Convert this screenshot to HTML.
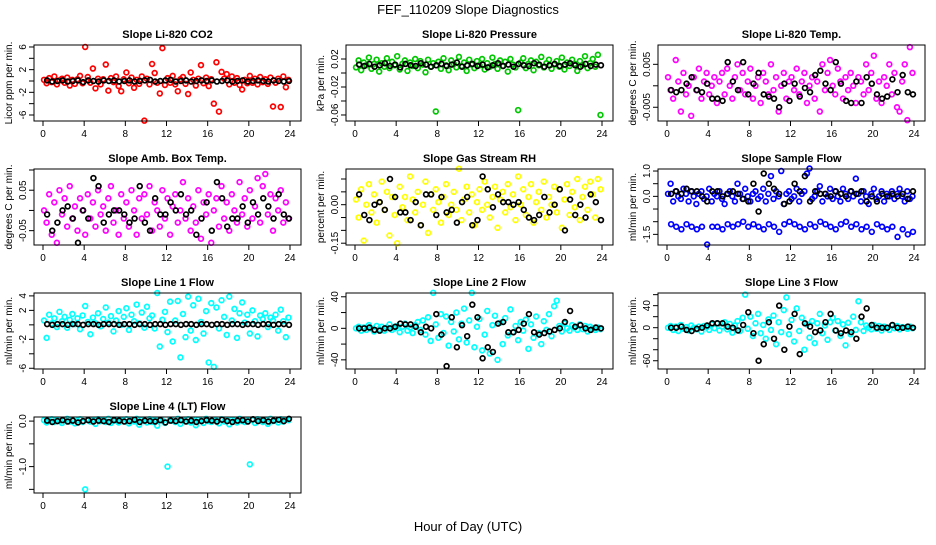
<!DOCTYPE html>
<html><head><meta charset="utf-8"><style>
body{margin:0;background:#fff;width:936px;height:540px;overflow:hidden}
svg text{font-family:"Liberation Sans",sans-serif}
</style></head><body>
<svg id="chart" width="936" height="540" viewBox="0 0 936 540">
<text x="468" y="14" text-anchor="middle" font-size="13">FEF_110209  Slope Diagnostics</text>
<text x="468" y="531" text-anchor="middle" font-size="13">Hour of Day (UTC)</text>
</svg>
<script>
const HC=[0.1,0.35,0.6,0.85,1.1,1.35,1.6,1.85,2.1,2.35,2.6,2.85,3.1,3.35,3.6,3.85,4.1,4.35,4.6,4.85,5.1,5.35,5.6,5.85,6.1,6.35,6.6,6.85,7.1,7.35,7.6,7.85,8.1,8.35,8.6,8.85,9.1,9.35,9.6,9.85,10.1,10.35,10.6,10.85,11.1,11.35,11.6,11.85,12.1,12.35,12.6,12.85,13.1,13.35,13.6,13.85,14.1,14.35,14.6,14.85,15.1,15.35,15.6,15.85,16.1,16.35,16.6,16.85,17.1,17.35,17.6,17.85,18.1,18.35,18.6,18.85,19.1,19.35,19.6,19.85,20.1,20.35,20.6,20.85,21.1,21.35,21.6,21.85,22.1,22.35,22.6,22.85,23.1,23.35,23.6,23.85];
const HB=[0.4,0.9,1.4,1.9,2.4,2.9,3.4,3.9,4.4,4.9,5.4,5.9,6.4,6.9,7.4,7.9,8.4,8.9,9.4,9.9,10.4,10.9,11.4,11.9,12.4,12.9,13.4,13.9,14.4,14.9,15.4,15.9,16.4,16.9,17.4,17.9,18.4,18.9,19.4,19.9,20.4,20.9,21.4,21.9,22.4,22.9,23.4,23.9];
const xTicks=[0,4,8,12,16,20,24];
const titles=["Slope Li-820 CO2","Slope Li-820 Pressure","Slope Li-820 Temp.","Slope Amb. Box Temp.","Slope Gas Stream RH","Slope Sample Flow","Slope Line 1 Flow","Slope Line 2 Flow","Slope Line 3 Flow","Slope Line 4 (LT) Flow"];
const yTitles=["Licor ppm per min.","kPa per min.","degrees C per min.","degrees C per min.","percent per min.","ml/min per min.","ml/min per min.","ml/min per min.","ml/min per min.","ml/min per min."];
const colors=["#ff0000","#00c800","#ff00ff","#ff00ff","#ffff00","#0000ff","#00ffff","#00ffff","#00ffff","#00ffff"];
const yLims=[[-7.06,6.35],[-0.0686,0.04],[-0.0082,0.0095],[-0.0855,0.1025],[-0.157,0.139],[-1.92,1.08],[-6.1,4.4],[-51.6,44.8],[-75,63],[-1.58,0.09]];
const yTickVals=[[-6,-4,-2,0,2,4,6],[-0.06,-0.04,-0.02,0,0.02],[-0.005,0,0.005],[-0.05,0,0.05,0.1],[-0.15,-0.1,-0.05,0,0.05,0.1],[-1.5,-1,-0.5,0,0.5,1],[-6,-4,-2,0,2,4],[-40,-20,0,20,40],[-60,-40,-20,0,20,40,60],[-1.5,-1,-0.5,0]];
const yTickLabels=[{"-6":"-6","-2":"-2","2":"2","6":"6"},{"-0.06":"-0.06","-0.02":"-0.02","0.02":"0.02"},{"-0.005":"-0.005","0.005":"0.005"},{"-0.05":"-0.05","0.05":"0.05"},{"-0.15":"-0.15","0":"0.00"},{"-1.5":"-1.5","0":"0.0","1":"1.0"},{"-6":"-6","-2":"-2","2":"2","4":"4"},{"-40":"-40","0":"0","40":"40"},{"-60":"-60","0":"0","40":"40"},{"-1":"-1.0","0":"0.0"}];
const colored=[
[0.2,-0.4,0.5,-0.2,0.8,-0.6,0.1,0.4,-0.3,0.6,-0.8,0.2,-0.5,0.3,0.9,-0.4,6.0,0.7,-0.3,2.2,-1.3,0.4,-0.6,0.3,2.9,-1.7,0.5,-0.2,0.8,-0.9,-1.8,0.3,1.5,-0.4,0.6,-1.2,0.2,-0.5,0.8,-7.0,0.4,-0.6,3.0,1.4,-0.3,-2.2,5.8,-0.7,0.5,-0.3,0.9,-0.6,-1.8,0.3,0.7,-0.5,-2.3,1.5,0.2,-0.8,0.4,2.8,-0.4,0.6,-0.9,0.3,-4.0,3.3,-5.4,1.6,0.4,1.2,-0.6,0.8,-0.3,0.5,-0.7,-1.5,0.2,-0.4,0.9,-0.3,0.4,-0.6,0.7,-0.2,0.3,-0.5,0.6,-4.5,-0.3,0.4,-4.6,0.8,-1.1,0.2],
[0.008,0.018,0.004,0.015,0.011,0.022,0.006,0.013,0.019,0.002,0.014,0.009,0.021,0.007,0.016,0.011,0.024,0.005,0.013,0.018,0.003,0.015,0.010,0.020,0.007,0.017,0.012,0.001,0.019,0.009,0.014,-0.055,0.016,0.006,0.021,0.011,0.004,0.018,0.013,0.008,0.023,0.010,0.015,0.003,0.019,0.012,0.007,0.017,0.011,0.020,0.005,0.014,0.009,0.022,0.013,0.006,0.018,0.010,0.016,0.002,0.020,0.012,0.008,-0.053,0.015,0.021,0.007,0.013,0.018,0.004,0.016,0.011,0.023,0.008,0.014,0.019,0.006,0.012,0.017,0.009,0.022,0.005,0.015,0.010,0.019,0.013,0.003,0.017,0.011,0.024,0.007,0.014,0.020,0.009,0.026,-0.060],
[0.002,-0.001,-0.003,0.006,0.001,-0.006,0.003,-0.002,0.000,-0.007,0.002,-0.001,0.004,-0.003,0.001,0.003,-0.002,0.000,0.002,-0.004,0.001,0.003,-0.002,0.004,0.000,-0.003,0.002,0.005,-0.001,0.003,-0.002,0.001,0.004,-0.003,0.000,0.002,-0.004,0.003,0.001,-0.002,0.005,-0.001,0.002,-0.006,0.000,0.003,-0.003,0.001,0.002,-0.001,0.004,-0.002,0.001,0.003,-0.004,0.000,0.002,-0.003,0.001,-0.006,0.005,-0.001,0.003,0.006,0.000,-0.002,0.004,0.001,-0.003,0.002,-0.001,0.003,0.000,-0.004,0.002,0.001,-0.002,0.005,-0.001,0.003,0.007,-0.003,0.001,-0.004,0.002,0.000,0.005,-0.002,0.003,-0.005,-0.006,0.001,0.005,-0.008,0.009,0.003],
[0.00,-0.03,0.04,-0.06,0.02,-0.08,0.05,-0.01,0.03,-0.04,0.06,-0.02,0.01,-0.05,0.03,0.00,-0.06,0.04,-0.02,0.02,-0.04,0.05,-0.01,0.01,-0.05,0.03,0.06,-0.03,0.00,-0.06,0.04,-0.02,0.02,-0.04,0.05,0.00,-0.06,0.03,-0.02,0.04,-0.01,0.06,-0.05,0.02,0.00,-0.04,0.05,-0.02,0.03,-0.06,0.01,0.04,-0.03,0.00,0.07,-0.02,0.03,-0.05,0.01,-0.03,0.05,-0.07,0.02,-0.01,0.04,-0.08,0.00,0.03,-0.04,0.06,-0.02,0.02,-0.05,0.04,0.00,-0.03,0.07,-0.01,0.03,-0.04,0.05,-0.02,0.01,0.08,-0.03,0.06,0.09,-0.01,0.04,-0.05,0.03,0.00,0.05,-0.03,0.02,-0.02],
[0.02,-0.05,0.06,-0.14,0.00,0.08,-0.03,0.04,-0.07,0.01,0.09,-0.02,0.05,-0.12,0.03,-0.04,-0.15,0.07,-0.01,0.03,-0.06,0.11,0.02,-0.03,0.05,-0.08,0.00,0.09,-0.11,0.04,-0.02,0.06,0.01,-0.07,0.03,0.08,-0.04,0.00,0.05,-0.02,0.14,-0.06,0.02,0.07,-0.03,0.04,-0.08,0.01,0.06,-0.02,0.09,0.00,-0.05,0.03,0.07,-0.09,0.02,0.05,-0.03,0.08,-0.01,0.04,-0.06,0.11,0.00,0.06,-0.04,0.03,0.08,-0.07,0.01,0.05,-0.02,0.09,-0.05,0.03,0.00,0.07,-0.03,0.06,-0.09,0.02,0.08,-0.04,0.05,-0.01,0.10,-0.06,0.03,0.07,-0.02,0.09,0.04,-0.05,0.10,0.06],
[0.1,0.5,-0.2,0.2,0.0,-0.1,0.3,0.1,-0.2,0.2,0.0,-0.3,0.1,0.2,-0.1,0.0,0.3,-0.2,0.1,0.0,0.2,-0.1,-0.3,0.1,0.2,0.0,-0.2,0.5,0.1,-0.1,0.3,0.0,-0.2,0.1,0.2,-0.1,0.0,0.3,-0.2,0.1,0.8,-0.1,0.2,0.0,1.0,-0.3,0.1,0.2,-0.1,0.0,0.3,-0.2,0.1,0.2,0.9,1.1,-0.1,0.0,0.2,0.4,-0.2,0.1,0.0,0.3,-0.1,0.2,0.0,-0.2,0.3,0.1,-0.1,0.2,0.0,0.7,0.1,-0.2,0.2,0.0,-0.3,0.1,0.3,-0.1,0.0,0.2,-0.2,0.1,0.0,0.2,-0.1,0.1,0.3,0.0,-0.2,0.2,-0.1,0.0],
[0.6,-1.8,1.4,0.2,0.9,-0.3,1.8,0.5,1.1,-0.4,0.7,1.5,0.1,0.9,-0.6,1.3,2.6,0.4,-1.3,1.0,0.2,1.6,-0.2,0.8,2.4,0.3,1.2,-0.9,0.6,1.9,0.0,1.1,2.3,-0.7,1.4,0.5,2.8,0.2,1.7,-0.4,2.5,0.9,1.3,-0.5,4.4,-3.0,0.7,1.8,-1.0,3.2,-2.3,0.6,3.3,-4.5,1.5,-1.7,3.9,-0.8,2.7,-2.1,3.6,0.4,-1.2,1.9,-5.2,3.0,-5.8,2.4,-0.5,3.4,1.1,-1.4,3.9,0.6,2.2,-1.8,1.6,3.1,0.3,1.4,-1.2,2.0,0.5,-1.6,1.3,0.8,1.6,-0.3,1.0,0.6,1.4,-0.8,2.1,0.5,-1.7,1.0],
[0,2,-3,1,-2,4,0,-4,3,-1,2,-3,1,5,-2,0,3,-5,2,6,-3,1,-6,4,8,-2,10,-8,14,-16,45,5,-12,18,-6,15,-22,8,-4,20,-14,6,25,-18,10,45,-24,2,12,-28,-8,22,-32,4,16,-40,7,-20,13,-9,24,-5,3,-15,8,-3,11,-26,5,-12,15,-6,-20,9,-2,18,-10,28,35,3,-4,6,0,-3,4,1,-2,5,-1,3,-4,2,0,-2,1,-1],
[0,3,-4,2,-6,5,-2,1,-5,4,0,-3,2,-7,3,1,-4,6,-1,8,-5,2,10,-3,7,-9,4,12,-6,18,60,-2,20,-15,8,25,-10,5,-20,15,-4,22,-30,10,-8,32,55,-12,14,-25,35,-6,18,-40,6,-18,12,-28,8,25,-10,4,-22,10,18,-5,12,-15,6,-32,9,-12,20,-4,48,10,-6,4,0,-3,5,-2,3,-5,2,0,-4,4,-1,3,-3,1,0,-2,2,-1],
[0.02,-0.03,0.01,0.04,-0.02,0.03,0.00,-0.04,0.02,0.05,-0.01,0.03,-0.05,0.01,0.04,-0.02,-1.5,0.03,-0.01,0.02,-0.06,0.04,0.00,0.03,-0.02,0.05,-0.04,0.01,0.03,-0.03,0.02,0.00,0.04,-0.05,0.02,-0.01,0.05,-0.08,0.03,0.01,-0.03,0.04,-0.02,0.02,-0.10,0.03,0.01,-0.04,-1.0,0.03,0.01,-0.02,0.05,-0.06,0.02,0.00,0.04,-0.03,0.02,-0.09,0.03,0.01,-0.04,0.05,0.00,-0.02,0.03,0.01,-0.05,0.04,-0.01,0.02,-0.07,0.03,0.01,-0.03,0.05,0.00,-0.02,0.03,-0.95,0.02,-0.04,0.04,0.01,-0.02,0.03,-0.06,0.05,0.00,0.02,-0.03,0.04,-0.01,0.03,0.02]];
const sampleFlowLower=[-1.1,-1.2,-1.3,-1.1,-1.2,-1.3,-1.2,-1.9,-1.2,-1.2,-1.3,-1.1,-1.2,-1.1,-1.0,-1.2,-1.1,-1.2,-1.3,-1.1,-1.2,-1.4,-1.1,-1.0,-1.1,-1.2,-1.3,-1.1,-1.2,-1.0,-1.1,-1.2,-1.3,-1.1,-1.0,-1.2,-1.1,-1.3,-1.2,-1.4,-1.1,-1.2,-1.3,-1.2,-1.6,-1.3,-1.5,-1.4];
const black=[
[0.1,-0.1,0.0,0.1,-0.1,0.0,0.1,-0.2,0.1,0.0,-0.1,0.1,0.0,0.1,-0.1,0.0,0.1,-0.1,0.0,0.1,0.2,-0.1,0.0,0.1,0.2,-0.1,0.0,0.1,-0.1,0.0,0.1,0.0,0.1,-0.1,0.0,0.1,-0.1,0.0,0.1,-0.1,0.0,0.1,0.0,-0.1,0.1,0.0,-0.1,0.0],
[0.012,0.010,0.013,0.009,0.011,0.014,0.010,0.012,0.008,0.013,0.011,0.010,0.014,0.012,0.009,0.011,0.013,0.010,0.012,0.015,0.009,0.011,0.013,0.010,0.012,0.008,0.011,0.014,0.010,0.012,0.009,0.013,0.011,0.010,0.014,0.012,0.009,0.011,0.013,0.010,0.012,0.014,0.011,0.009,0.013,0.010,0.012,0.011],
[-0.001,-0.0015,-0.001,0.0005,0.002,-0.001,-0.0015,0.0005,-0.003,-0.003,-0.0035,0.0055,0.001,-0.001,0.0055,-0.002,0.0005,0.003,-0.002,-0.0025,-0.003,-0.005,0.0005,-0.0035,0.0005,-0.0025,-0.0005,-0.0015,0.0025,0.0035,0.0005,-0.001,0.0055,0.0005,-0.0035,-0.004,0.001,-0.004,0.002,0.0005,-0.002,-0.003,-0.0025,0.0015,-0.0015,0.0025,-0.0015,-0.002],
[-0.01,-0.05,-0.03,0.00,0.01,-0.02,-0.08,0.00,-0.02,0.08,0.06,-0.03,-0.01,0.00,0.00,-0.01,-0.03,-0.02,0.06,-0.03,-0.05,0.03,-0.01,-0.01,0.02,0.00,0.04,-0.01,0.00,-0.06,-0.02,0.02,-0.05,0.07,0.03,-0.04,-0.02,-0.02,0.01,-0.03,0.02,-0.01,0.03,0.01,-0.02,0.04,-0.01,-0.02],
[0.04,-0.04,-0.06,0.00,0.01,-0.02,0.10,0.03,-0.03,-0.03,-0.06,0.01,-0.08,0.04,0.04,-0.04,0.03,-0.03,-0.02,-0.07,0.01,0.03,-0.08,-0.06,0.11,0.06,-0.01,0.04,0.01,0.01,0.00,0.01,-0.02,-0.05,-0.06,-0.04,0.03,-0.03,0.00,0.06,-0.10,0.02,-0.04,0.00,-0.05,0.04,0.01,-0.06],
[0.1,0.2,0.1,0.3,0.2,0.2,0.0,-0.2,0.2,0.2,0.0,0.1,0.2,0.1,-0.1,-0.2,0.5,-0.6,0.9,0.5,0.3,0.1,-0.3,-0.2,0.5,0.2,0.8,-0.2,0.2,0.1,0.1,0.0,0.2,0.1,0.0,0.2,0.1,0.2,-0.2,0.0,-0.2,0.1,0.0,0.1,0.0,0.1,-0.1,0.2],
[0.1,0.0,0.1,0.1,0.0,0.1,0.1,0.0,0.1,0.1,0.0,0.1,0.1,0.1,0.0,0.1,0.1,0.0,0.1,0.1,0.0,0.1,0.1,0.0,0.1,0.1,0.0,0.1,0.1,0.0,0.1,0.1,0.0,0.1,0.1,0.0,0.1,0.1,0.0,0.1,0.1,0.0,0.1,0.1,0.0,0.1,0.1,0.0],
[0,0,1,-2,-3,0,0,2,6,5,5,2,-5,2,0,18,-8,-48,14,-24,4,-10,30,14,-38,-24,-30,6,8,-5,-5,-2,6,18,-5,-8,-6,-4,-2,0,8,22,2,4,0,-2,1,0],
[0,0,2,-4,-6,-2,0,4,8,8,8,2,0,-5,5,28,-10,-60,-30,10,-20,40,-40,2,25,-48,8,2,-8,-5,10,25,-5,-10,-5,-8,-20,20,35,5,0,0,0,5,0,0,2,0],
[0.01,-0.02,0.00,0.02,-0.01,0.01,-0.03,0.00,0.02,-0.01,0.01,0.00,-0.02,0.02,0.01,-0.01,0.00,0.03,-0.02,0.01,0.00,-0.01,0.02,-0.03,0.01,0.00,0.02,-0.01,0.01,-0.02,0.00,0.02,0.01,-0.01,0.03,0.00,-0.02,0.01,0.02,-0.01,0.04,0.00,0.02,-0.01,0.01,0.03,0.00,0.05]];

const NS="http://www.w3.org/2000/svg";
const svg=document.getElementById('chart');
const colX=[34,346,658], rowY=[45,169,293,417], W=267, Hh=76;
function mk(t,a,p){const e=document.createElementNS(NS,t);for(const k in a)e.setAttribute(k,a[k]);(p||svg).appendChild(e);return e;}
for(let p=0;p<10;p++){
  const x0=colX[p%3], y0=rowY[Math.floor(p/3)];
  const [ymin,ymax]=yLims[p];
  const xs=h=>x0+9+h*(247/24);
  const ys=v=>y0+Hh-(v-ymin)/(ymax-ymin)*Hh;
  const g=mk('g',{});
  
  
  const t=mk('text',{x:x0+W/2,y:y0-7,'text-anchor':'middle','font-size':11,'font-weight':'bold'},g);t.textContent=titles[p];
  
  
  const yt=mk('text',{x:0,y:0,'text-anchor':'middle','font-size':10,transform:`translate(${x0-22},${y0+Hh/2}) rotate(-90)`},g);yt.textContent=yTitles[p];
  
  
  xTicks.forEach(h=>{const x=xs(h);mk('line',{x1:x,x2:x,y1:y0+Hh,y2:y0+Hh+5,stroke:'#000'},g);
    const l=mk('text',{x:x,y:y0+Hh+16,'text-anchor':'middle','font-size':10},g);l.textContent=h;
    
    });
  yTickVals[p].forEach(v=>{const y=ys(v);mk('line',{x1:x0-5,x2:x0,y1:y,y2:y,stroke:'#000'},g);
    const lab=yTickLabels[p][String(v)];
    if(lab!==undefined){const l=mk('text',{x:0,y:0,'text-anchor':'middle','font-size':10,transform:`translate(${x0-8},${y}) rotate(-90)`},g);l.textContent=lab;
      
      }});
  const pts=mk('g',{fill:'none','stroke-width':1.7},g);
  
  
  colored[p].forEach((v,i)=>{const c=mk('circle',{cx:xs(HC[i]),cy:ys(v),r:2.4,stroke:colors[p]},pts);
    
    });
  if(p===5) sampleFlowLower.forEach((v,i)=>{const c=mk('circle',{cx:xs(HB[i]),cy:ys(v),r:2.4,stroke:colors[p]},pts);
    
    });
  const bp=mk('g',{fill:'none','stroke-width':1.7},g);
  
  
  black[p].forEach((v,i)=>{const c=mk('circle',{cx:xs(HB[i]),cy:ys(v),r:2.4,stroke:'#000'},bp);
    
    });
  const box=mk('rect',{x:x0,y:y0,width:W,height:Hh,fill:'none',stroke:'#000'},g);
  
  
}
</script>
</body></html>
